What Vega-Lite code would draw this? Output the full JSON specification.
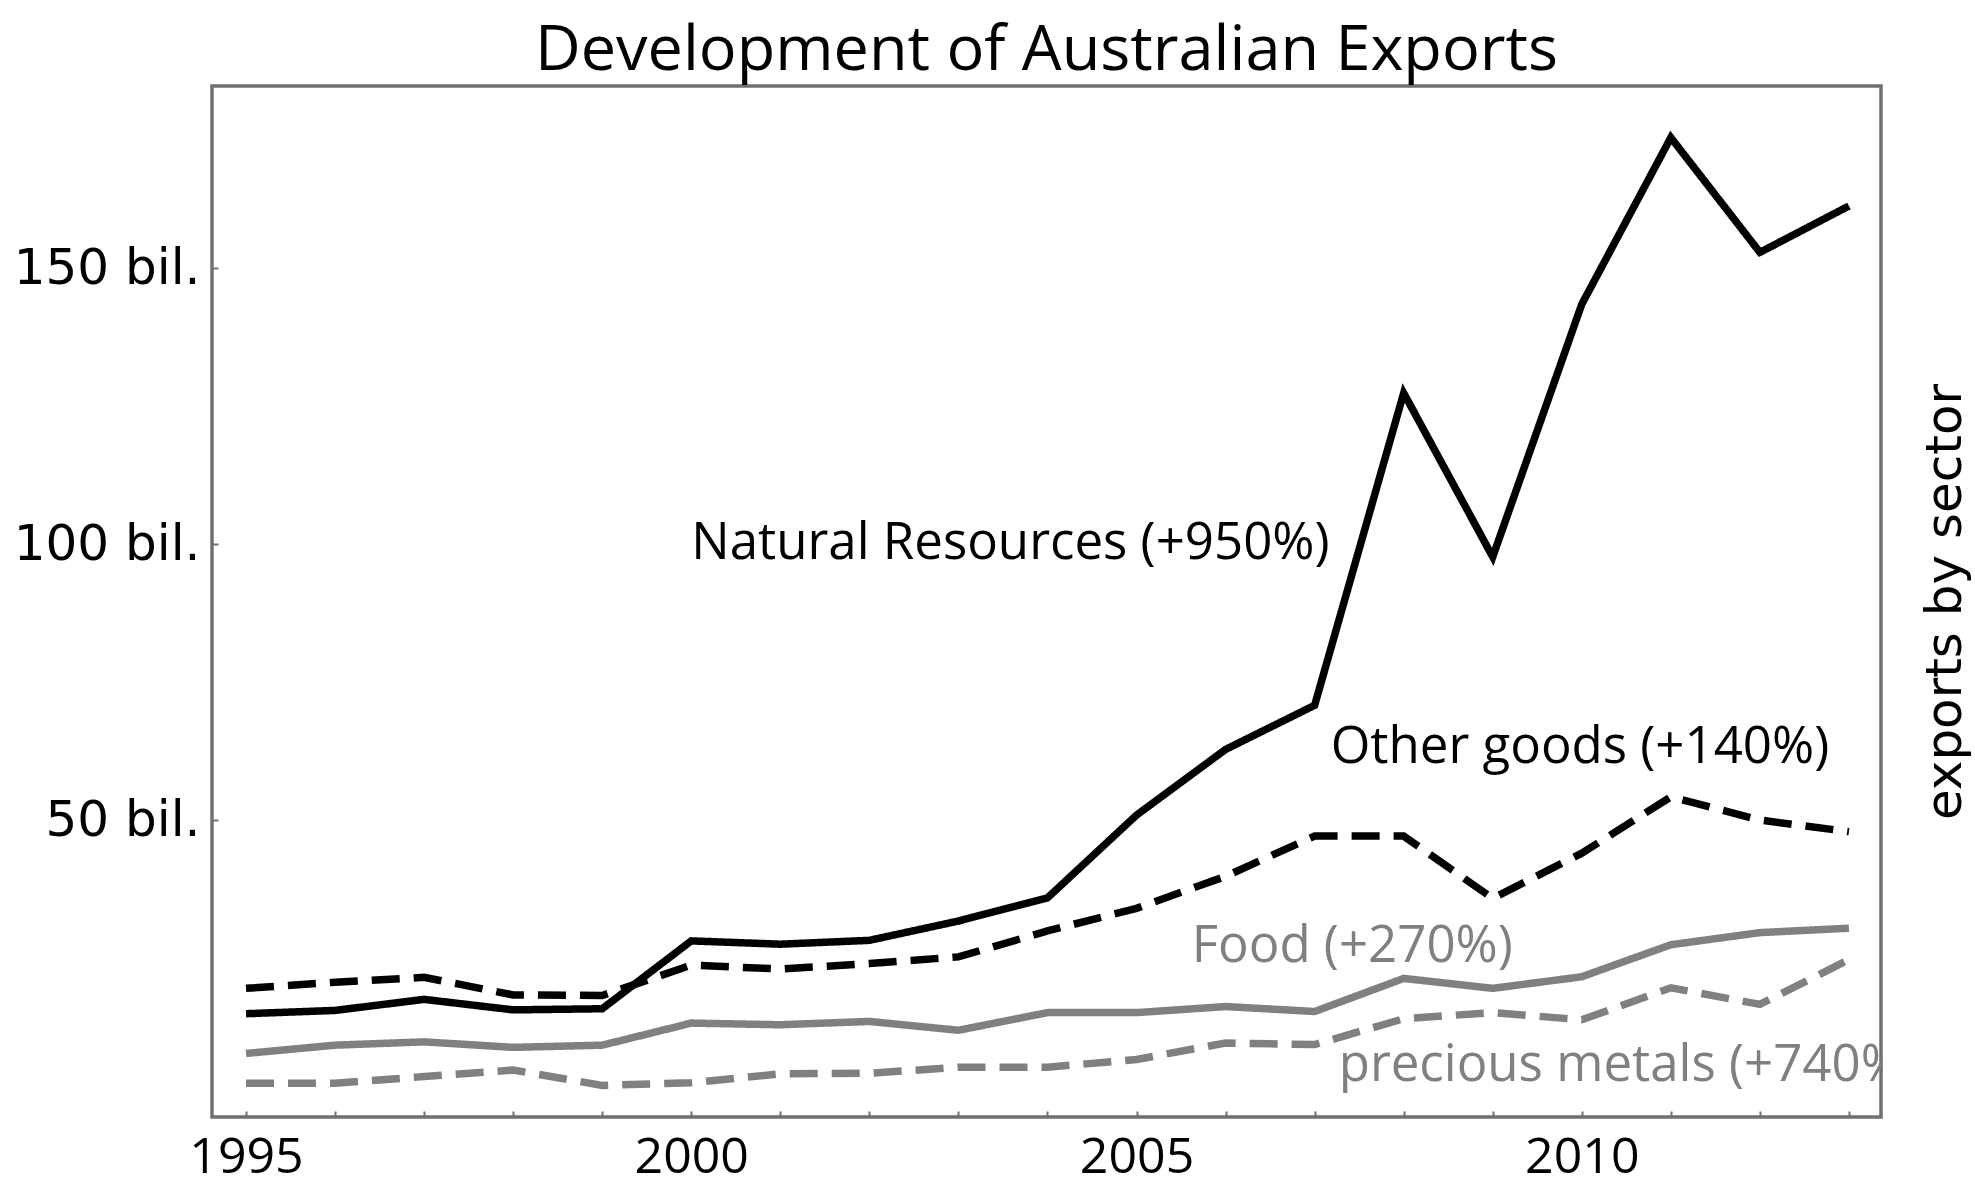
{
  "$schema": "https://vega.github.io/schema/vega-lite/v6.json",
  "width": 1669,
  "height": 1031,
  "autosize": {"type": "none"},
  "padding": {"left": 212, "top": 86, "right": 94, "bottom": 71},
  "background": "white",
  "title": {
    "text": "Development of Australian Exports",
    "font": "Open Sans",
    "fontSize": 63,
    "fontWeight": "normal",
    "color": "black",
    "anchor": "middle",
    "frame": "group",
    "baseline": "alphabetic",
    "offset": -47
  },
  "datasets": {
    "series": [
      {"sector": "Natural Resources", "year": 1995, "value": 14.9},
      {"sector": "Natural Resources", "year": 1996, "value": 15.5},
      {"sector": "Natural Resources", "year": 1997, "value": 17.5},
      {"sector": "Natural Resources", "year": 1998, "value": 15.6},
      {"sector": "Natural Resources", "year": 1999, "value": 15.8},
      {"sector": "Natural Resources", "year": 2000, "value": 28.1},
      {"sector": "Natural Resources", "year": 2001, "value": 27.5},
      {"sector": "Natural Resources", "year": 2002, "value": 28.2},
      {"sector": "Natural Resources", "year": 2003, "value": 31.7},
      {"sector": "Natural Resources", "year": 2004, "value": 35.9},
      {"sector": "Natural Resources", "year": 2005, "value": 50.9},
      {"sector": "Natural Resources", "year": 2006, "value": 62.8},
      {"sector": "Natural Resources", "year": 2007, "value": 70.8},
      {"sector": "Natural Resources", "year": 2008, "value": 127.4},
      {"sector": "Natural Resources", "year": 2009, "value": 97.7},
      {"sector": "Natural Resources", "year": 2010, "value": 143.5},
      {"sector": "Natural Resources", "year": 2011, "value": 173.7},
      {"sector": "Natural Resources", "year": 2012, "value": 152.9},
      {"sector": "Natural Resources", "year": 2013, "value": 161.3},
      {"sector": "Other goods", "year": 1995, "value": 19.5},
      {"sector": "Other goods", "year": 1996, "value": 20.6},
      {"sector": "Other goods", "year": 1997, "value": 21.5},
      {"sector": "Other goods", "year": 1998, "value": 18.3},
      {"sector": "Other goods", "year": 1999, "value": 18.2},
      {"sector": "Other goods", "year": 2000, "value": 23.7},
      {"sector": "Other goods", "year": 2001, "value": 23.0},
      {"sector": "Other goods", "year": 2002, "value": 24.0},
      {"sector": "Other goods", "year": 2003, "value": 25.2},
      {"sector": "Other goods", "year": 2004, "value": 29.9},
      {"sector": "Other goods", "year": 2005, "value": 34.0},
      {"sector": "Other goods", "year": 2006, "value": 39.8},
      {"sector": "Other goods", "year": 2007, "value": 47.1},
      {"sector": "Other goods", "year": 2008, "value": 47.1},
      {"sector": "Other goods", "year": 2009, "value": 35.8},
      {"sector": "Other goods", "year": 2010, "value": 44.0},
      {"sector": "Other goods", "year": 2011, "value": 54.2},
      {"sector": "Other goods", "year": 2012, "value": 50.0},
      {"sector": "Other goods", "year": 2013, "value": 47.9},
      {"sector": "Food", "year": 1995, "value": 7.7},
      {"sector": "Food", "year": 1996, "value": 9.2},
      {"sector": "Food", "year": 1997, "value": 9.8},
      {"sector": "Food", "year": 1998, "value": 8.8},
      {"sector": "Food", "year": 1999, "value": 9.2},
      {"sector": "Food", "year": 2000, "value": 13.2},
      {"sector": "Food", "year": 2001, "value": 12.9},
      {"sector": "Food", "year": 2002, "value": 13.5},
      {"sector": "Food", "year": 2003, "value": 11.9},
      {"sector": "Food", "year": 2004, "value": 15.1},
      {"sector": "Food", "year": 2005, "value": 15.1},
      {"sector": "Food", "year": 2006, "value": 16.2},
      {"sector": "Food", "year": 2007, "value": 15.3},
      {"sector": "Food", "year": 2008, "value": 21.3},
      {"sector": "Food", "year": 2009, "value": 19.5},
      {"sector": "Food", "year": 2010, "value": 21.6},
      {"sector": "Food", "year": 2011, "value": 27.4},
      {"sector": "Food", "year": 2012, "value": 29.6},
      {"sector": "Food", "year": 2013, "value": 30.4},
      {"sector": "precious metals", "year": 1995, "value": 2.3},
      {"sector": "precious metals", "year": 1996, "value": 2.3},
      {"sector": "precious metals", "year": 1997, "value": 3.5},
      {"sector": "precious metals", "year": 1998, "value": 4.7},
      {"sector": "precious metals", "year": 1999, "value": 1.9},
      {"sector": "precious metals", "year": 2000, "value": 2.4},
      {"sector": "precious metals", "year": 2001, "value": 4.0},
      {"sector": "precious metals", "year": 2002, "value": 4.1},
      {"sector": "precious metals", "year": 2003, "value": 5.2},
      {"sector": "precious metals", "year": 2004, "value": 5.2},
      {"sector": "precious metals", "year": 2005, "value": 6.6},
      {"sector": "precious metals", "year": 2006, "value": 9.6},
      {"sector": "precious metals", "year": 2007, "value": 9.3},
      {"sector": "precious metals", "year": 2008, "value": 14.0},
      {"sector": "precious metals", "year": 2009, "value": 15.1},
      {"sector": "precious metals", "year": 2010, "value": 13.8},
      {"sector": "precious metals", "year": 2011, "value": 19.6},
      {"sector": "precious metals", "year": 2012, "value": 16.6},
      {"sector": "precious metals", "year": 2013, "value": 24.7}
    ],
    "labels": [
      {"sector": "Natural Resources", "label": "Natural Resources (+950%)", "year": 2000.0, "value": 97.3},
      {"sector": "Other goods", "label": "Other goods (+140%)", "year": 2007.18, "value": 60.3},
      {"sector": "Food", "label": "Food (+270%)", "year": 2005.62, "value": 24.3},
      {"sector": "precious metals", "label": "precious metals (+740%)", "year": 2007.27, "value": 2.7}
    ]
  },
  "encoding": {
    "x": {
      "field": "year",
      "type": "quantitative",
      "scale": {"domain": [1994.618, 2013.36], "nice": false, "zero": false},
      "axis": {
        "values": [1995, 1996, 1997, 1998, 1999, 2000, 2001, 2002, 2003, 2004, 2005, 2006, 2007, 2008, 2009, 2010, 2011, 2012, 2013],
        "format": "d",
        "labelExpr": "datum.value % 5 === 0 ? datum.label : ''",
        "title": null,
        "grid": false,
        "domain": false,
        "ticks": true,
        "tickSize": -6,
        "tickWidth": 2,
        "tickColor": "#707070",
        "labelFont": "Open Sans",
        "labelFontSize": 50,
        "labelColor": "black",
        "labelBaseline": "alphabetic",
        "labelPadding": 61,
        "labelFlush": false,
        "labelOverlap": false,
        "labelBound": false
      }
    },
    "y": {
      "field": "value",
      "type": "quantitative",
      "scale": {"domain": [-3.82, 183.05], "nice": false, "zero": false},
      "axis": {
        "values": [50, 100, 150],
        "labelExpr": "datum.value + ' bil.'",
        "title": "exports by sector",
        "titleFont": "DejaVu Sans",
        "titleFontSize": 50,
        "titleFontWeight": "normal",
        "titleColor": "black",
        "titleAngle": 270,
        "titleX": 1748,
        "titleY": 515.5,
        "titleBaseline": "alphabetic",
        "titleAlign": "center",
        "titleLimit": 1000,
        "grid": false,
        "domain": false,
        "ticks": true,
        "tickSize": -6,
        "tickWidth": 2,
        "tickColor": "#707070",
        "labelFont": "DejaVu Sans",
        "labelFontSize": 50,
        "labelColor": "black",
        "labelPadding": 18,
        "labelLimit": 500,
        "labelFlush": false,
        "labelOverlap": false,
        "labelBound": false
      }
    },
    "color": {
      "field": "sector",
      "type": "nominal",
      "scale": {
        "domain": ["Natural Resources", "Other goods", "Food", "precious metals"],
        "range": ["#000000", "#000000", "#808080", "#808080"]
      },
      "legend": null
    }
  },
  "layer": [
    {
      "data": {"name": "series"},
      "mark": {"type": "line", "strokeWidth": 7.5, "strokeCap": "butt", "strokeJoin": "miter"},
      "encoding": {
        "strokeDash": {
          "field": "sector",
          "type": "nominal",
          "scale": {
            "domain": ["Natural Resources", "Other goods", "Food", "precious metals"],
            "range": [[1, 0], [28, 14], [1, 0], [28, 14]]
          },
          "legend": null
        }
      }
    },
    {
      "data": {"name": "labels"},
      "mark": {"type": "text", "align": "left", "baseline": "alphabetic", "font": "Open Sans", "fontSize": 51, "clip": true},
      "encoding": {
        "text": {"field": "label", "type": "nominal"}
      }
    }
  ],
  "config": {
    "view": {"stroke": "#707070", "strokeWidth": 3.5}
  }
}
